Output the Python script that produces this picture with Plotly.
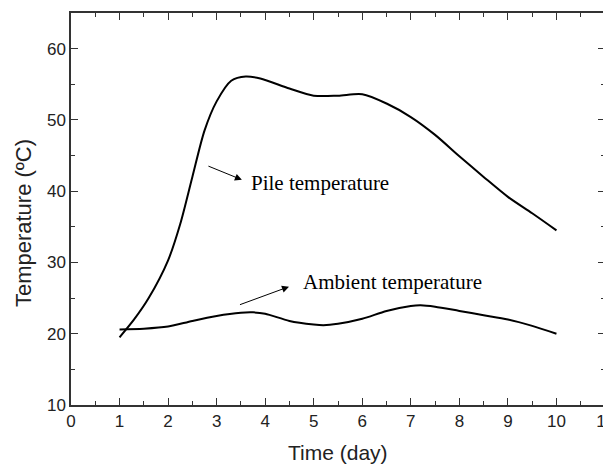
import plotly.graph_objects as go

# Data
days_pile = [1, 1.3, 1.6, 2, 2.25, 2.5, 2.75, 3, 3.3, 3.6, 3.9, 4.5, 5, 5.5, 6, 6.5, 7, 7.5, 8, 8.5, 9, 9.5, 10]
pile_temp = [19.5, 22.0, 25.0, 30.3, 35.4, 42.0, 48.5, 52.6, 55.5, 56.1, 55.8, 54.4, 53.4, 53.4, 53.6, 52.3, 50.4, 47.9, 44.9, 42.0, 39.2, 36.9, 34.5]

days_amb = [1, 1.5, 2, 2.5, 3, 3.5, 3.75, 4, 4.5, 5, 5.2, 5.5, 6, 6.5, 7, 7.2, 7.5, 8, 8.5, 9, 9.5, 10]
amb_temp = [20.6, 20.7, 21.0, 21.8, 22.5, 22.95, 23.0, 22.8, 21.8, 21.3, 21.2, 21.4, 22.1, 23.2, 23.9, 24.0, 23.8, 23.2, 22.6, 22.0, 21.1, 20.0]

x_ticks = list(range(0, 12))
y_ticks = [10, 20, 30, 40, 50, 60]

fig = go.Figure()
fig.add_trace(go.Scatter(x=days_pile, y=pile_temp, mode="lines",
                         line=dict(color="black", width=2, shape="spline", smoothing=0.8),
                         showlegend=False))
fig.add_trace(go.Scatter(x=days_amb, y=amb_temp, mode="lines",
                         line=dict(color="black", width=2, shape="spline", smoothing=0.8),
                         showlegend=False))

serif = dict(family="Liberation Serif, Times New Roman, serif", size=21, color="black")
sans = "Liberation Sans, Arial, sans-serif"

fig.add_annotation(x=3.66, y=41.2, text="Pile temperature", showarrow=False,
                   xanchor="left", yanchor="middle", font=serif)
fig.add_annotation(x=4.73, y=27.3, text="Ambient temperature", showarrow=False,
                   xanchor="left", yanchor="middle", font=serif)
fig.add_annotation(x=3.52, y=41.6, ax=2.8, ay=43.6, axref="x", ayref="y",
                   text="", showarrow=True, arrowhead=2, arrowsize=1.4, arrowwidth=1, arrowcolor="black")
fig.add_annotation(x=4.49, y=26.6, ax=3.45, ay=24.0, axref="x", ayref="y",
                   text="", showarrow=True, arrowhead=2, arrowsize=1.4, arrowwidth=1, arrowcolor="black")

# Axis titles
fig.add_annotation(x=0.5, y=-0.1224, xref="paper", yref="paper", text="Time (day)", showarrow=False,
                   xanchor="center", yanchor="middle", font=dict(family=sans, size=21, color="#222222"))
fig.add_annotation(x=-0.0899, y=0.464, xref="paper", yref="paper", text="Temperature (ºC)", showarrow=False,
                   textangle=-90, xanchor="center", yanchor="middle", font=dict(family=sans, size=22, color="#222222"))

axis_common = dict(showgrid=False, zeroline=False, showline=True, linecolor="#333333", linewidth=1.5,
                   mirror="ticks", ticks="inside", ticklen=7, tickwidth=1.2, tickcolor="#333333",
                   automargin=False, ticklabeloverflow="allow",
                   tickfont=dict(family=sans, size=17, color="#222222"))

fig.update_xaxes(range=[0, 11], tickvals=x_ticks, ticktext=[str(v) for v in x_ticks],
                 minor=dict(ticks="inside", ticklen=4, dtick=0.5, tick0=0, tickcolor="#333333", tickwidth=1),
                 **axis_common)
fig.update_yaxes(range=[10, 65], tickvals=y_ticks, ticktext=[str(v) for v in y_ticks],
                 minor=dict(ticks="inside", ticklen=4, dtick=5, tick0=10, tickcolor="#333333", tickwidth=1),
                 **axis_common)

# The page body adds an 8px offset, so the figure is sized to fit the 611x464 window
fig.update_layout(width=603, height=456, margin=dict(l=63, r=6, t=5, b=59),
                  plot_bgcolor="white", paper_bgcolor="white")

fig.write_html("out.html")
